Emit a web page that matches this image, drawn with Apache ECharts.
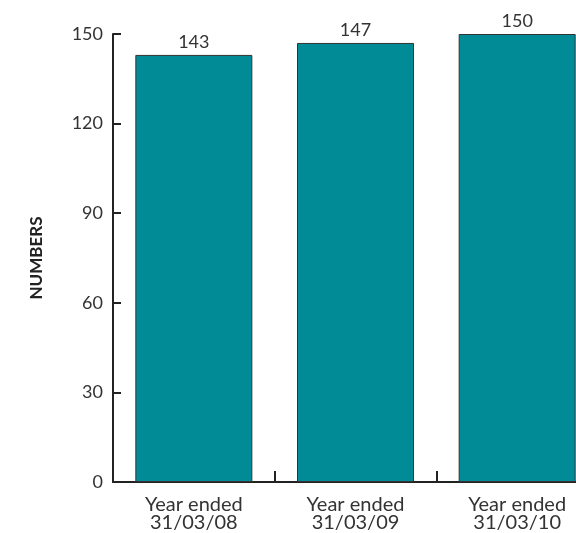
<!DOCTYPE html>
<html><head><meta charset="utf-8">
<script src="https://cdn.jsdelivr.net/npm/echarts@6/dist/echarts.min.js"></script>
<style>html,body{margin:0;padding:0;background:#fff}#c{width:576px;height:533px}</style>
</head><body><div id="c"></div>
<script>
const categories = ["Year ended\n31/03/08", "Year ended\n31/03/09", "Year ended\n31/03/10"];
const values = [143, 147, 150];
const yTicks = [0, 30, 60, 90, 120, 150];

const chart = echarts.init(document.getElementById('c'), null, {renderer: 'canvas'});
chart.setOption({
  animation: false,
  grid: {left: 113, top: 34, bottom: 51, width: 485, outerBoundsMode: 'none', containLabel: false},
  xAxis: {
    type: 'category', data: categories,
    axisLine: {lineStyle: {color: '#222', width: 2}},
    axisTick: {show: true, inside: true, alignWithLabel: false, length: 11, lineStyle: {color: '#222', width: 2}},
    axisLabel: {color: '#333', fontFamily: 'Lato', fontSize: 20, lineHeight: 18, margin: 14}
  },
  yAxis: {
    type: 'value', min: 0, max: 150, interval: 30,
    name: 'NUMBERS', nameLocation: 'middle', nameGap: 68, nameRotate: 90,
    nameTextStyle: {color: '#222', fontFamily: 'Lato', fontWeight: 'bold', fontSize: 17},
    axisLine: {show: true, lineStyle: {color: '#222', width: 2}},
    axisTick: {show: true, inside: true, length: 8, lineStyle: {color: '#222', width: 2}},
    axisLabel: {color: '#333', fontFamily: 'Lato', fontSize: 18, margin: 10,
      formatter: v => yTicks.includes(v) ? String(v) : ''},
    splitLine: {show: false}
  },
  series: [{
    type: 'bar', data: values, barWidth: 117,
    itemStyle: {color: '#008B96', borderColor: '#333', borderWidth: 1},
    label: {show: true, position: 'top', distance: 4, color: '#333', fontFamily: 'Lato', fontSize: 18}
  }]
});
</script></body></html>
